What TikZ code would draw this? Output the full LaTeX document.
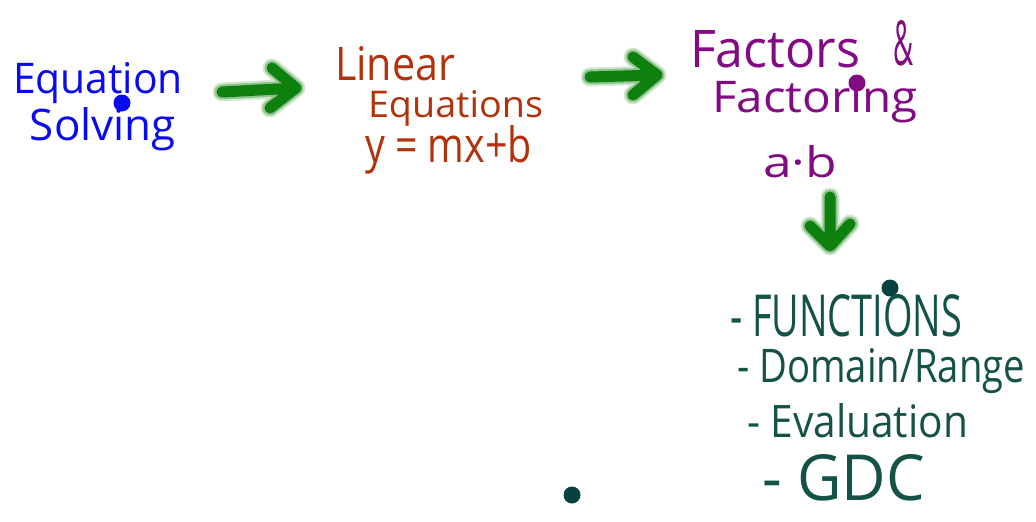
\documentclass[tikz,border=0pt]{standalone}
\usepackage{graphicx}
\usepackage{fontspec}
\setmainfont{Open Sans}
\usetikzlibrary{calc}
\definecolor{eqblue}{RGB}{10,10,240}
\definecolor{linbrown}{RGB}{178,50,12}
\definecolor{facpurple}{RGB}{130,10,130}
\definecolor{funteal}{RGB}{20,82,72}
\definecolor{dotteal}{RGB}{8,66,64}
\definecolor{arrgreen}{RGB}{14,128,14}
\newcommand{\hw}[3]{\resizebox{#1pt}{#2pt}{#3}}
\tikzset{
  txt/.style={anchor=base west, inner sep=0pt, outer sep=0pt},
  dotnode/.style={circle, inner sep=0pt, minimum size=17pt},
  garrow/.style={draw=arrgreen, line width=11pt, line cap=round, line join=round,
    preaction={draw=arrgreen, line width=19pt, opacity=.18, line cap=round, line join=round},
    preaction={draw=arrgreen, line width=15pt, opacity=.35, line cap=round, line join=round}}
}
\begin{document}
\begin{tikzpicture}[x=1pt,y=-1pt]
\useasboundingbox (0,0) rectangle (1036,522);
% Equation Solving
\node[txt, text=eqblue] (eq1) at (13,93) {\hw{170}{31}{Equation}};
\node[txt, text=eqblue] (eq2) at (30,140) {\hw{146}{33}{Solving}};
\node[dotnode, fill=eqblue] (d1) at (122,103) {};
% Linear Equations
\node[txt, text=linbrown] (li1) at (335,80) {\hw{120}{34}{Linear}};
\node[txt, text=linbrown] (li2) at (368,117) {\hw{175}{27}{Equations}};
\node[txt, text=linbrown] (li3) at (365,162) {\hw{167}{37}{y = mx+b}};
% Factors & Factoring
\node[txt, text=facpurple] (fa1) at (690,67) {\hw{170}{37}{Factors}};
\node[txt, text=facpurple] (fa2) at (893,65) {\hw{20}{45}{\&}};
\node[txt, text=facpurple] (fa3) at (712,112) {\hw{206}{32}{Factoring}};
\node[txt, text=facpurple] (fa4) at (763,177) {\hw{74}{32}{a·b}};
\node[dotnode, fill=facpurple] (d2) at (857,83) {};
% list
\node[txt, text=funteal] (f1) at (730,336) {\hw{232}{42}{- FUNCTIONS}};
\node[txt, text=funteal] (f2) at (737,382) {\hw{288}{34}{- Domain/Range}};
\node[txt, text=funteal] (f3) at (747,437) {\hw{221}{34}{- Evaluation}};
\node[txt, text=funteal] (f4) at (762,500) {\hw{163}{46}{- GDC}};
\node[dotnode, fill=dotteal] (d3) at (890,288) {};
\node[dotnode, fill=dotteal] (d4) at (572,495) {};
% arrows
\coordinate (a1s) at (222,92);
\coordinate (a1e) at (296,88);
\coordinate (a2s) at (590,77);
\coordinate (a2e) at (657,75);
\coordinate (a3s) at (830,197);
\coordinate (a3e) at (830,246);
\path[garrow] (a1s) -- (a1e) ($(a1e)+(-24,-20)$) -- (a1e) -- ($(a1e)+(-26,20)$);
\path[garrow] (a2s) -- (a2e) ($(a2e)+(-24,-18)$) -- (a2e) -- ($(a2e)+(-24,20)$);
\path[garrow] (a3s) -- (a3e) ($(a3e)+(-20,-20)$) -- (a3e) -- ($(a3e)+(20,-22)$);
\end{tikzpicture}
\end{document}
